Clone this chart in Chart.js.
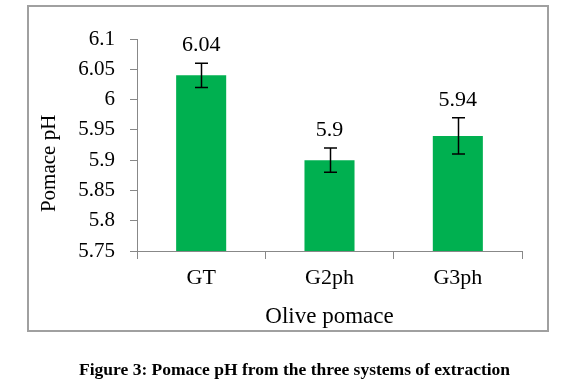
<!DOCTYPE html>
<html>
<head>
<meta charset="utf-8">
<script src="https://cdn.jsdelivr.net/npm/chart.js@4/dist/chart.umd.min.js"></script>
<style>
  html, body { margin: 0; padding: 0; background: #ffffff; }
  #wrap { position: relative; width: 578px; height: 390px; }
  #c { position: absolute; left: 0; top: 0; }
  #caption {
    position: absolute; left: 79px; top: 359px;
    font-family: "Liberation Serif", "Times New Roman", serif;
    font-weight: bold; font-size: 17.5px; line-height: 20px;
    color: #000; white-space: nowrap;
  }
</style>
</head>
<body>
<div id="wrap">
  <canvas id="c" width="578" height="390"></canvas>
  <div id="caption">Figure 3: Pomace pH from the three systems of extraction</div>
</div>
<script>
const categories = ['GT', 'G2ph', 'G3ph'];
const phValues = [6.04, 5.90, 5.94];
const phErrors = [0.02, 0.02, 0.03];
const dataLabels = ['6.04', '5.9', '5.94'];
const yMin = 5.75, yMax = 6.1, yStep = 0.05;
const yTitle = 'Pomace pH';
const xTitle = 'Olive pomace';

const SERIF = '"Liberation Serif", "Times New Roman", serif';

const frameAndErrors = {
  id: 'frameAndErrors',
  beforeDraw(chart) {
    const ctx = chart.ctx;
    ctx.save();
    ctx.fillStyle = '#ffffff';
    ctx.fillRect(0, 0, chart.width, chart.height);
    ctx.strokeStyle = '#a0a0a0';
    ctx.lineWidth = 2;
    ctx.strokeRect(28, 6, 520, 325);
    ctx.restore();
  },
  afterDatasetsDraw(chart) {
    const ctx = chart.ctx;
    const y = chart.scales.y;
    const meta = chart.getDatasetMeta(0);
    ctx.save();
    meta.data.forEach((bar, i) => {
      const cx = Math.round(bar.x) + 0.5;
      const top = y.getPixelForValue(phValues[i] + phErrors[i]);
      const bot = y.getPixelForValue(phValues[i] - phErrors[i]);
      ctx.strokeStyle = '#000';
      ctx.lineWidth = 1.5;
      ctx.beginPath();
      ctx.moveTo(cx, top); ctx.lineTo(cx, bot);
      ctx.moveTo(cx - 6.5, top); ctx.lineTo(cx + 6.5, top);
      ctx.moveTo(cx - 6.5, bot); ctx.lineTo(cx + 6.5, bot);
      ctx.stroke();
      ctx.fillStyle = '#000';
      ctx.font = '22px ' + SERIF;
      ctx.textAlign = 'center';
      ctx.textBaseline = 'alphabetic';
      ctx.fillText(dataLabels[i], bar.x, top - 12);
    });
    ctx.restore();
  }
};

new Chart(document.getElementById('c'), {
  type: 'bar',
  data: {
    labels: categories,
    datasets: [{
      data: phValues,
      backgroundColor: '#00b050',
      borderWidth: 0,
      barPercentage: 0.39,
      categoryPercentage: 1.0
    }]
  },
  options: {
    responsive: false,
    animation: false,
    devicePixelRatio: 1,
    layout: { padding: { left: 0, right: 56, top: 39, bottom: 0 } },
    plugins: { legend: { display: false }, tooltip: { enabled: false } },
    scales: {
      x: {
        afterFit(scale) { scale.height = 139; },
        grid: { drawOnChartArea: false, drawTicks: true, tickLength: 8, color: '#888888', lineWidth: 1 },
        border: { display: true, color: '#888888', width: 1 },
        ticks: { color: '#000', padding: 6, font: { family: SERIF, size: 22 } },
        title: { display: true, text: xTitle, color: '#000', font: { family: SERIF, size: 23 }, padding: { top: 0, bottom: 59.5 } }
      },
      y: {
        min: yMin, max: yMax,
        afterFit(scale) { scale.width = 137; },
        grid: { drawOnChartArea: false, drawTicks: true, tickLength: 7, color: '#888888', lineWidth: 1 },
        border: { display: true, color: '#888888', width: 1 },
        ticks: {
          stepSize: yStep, color: '#000', padding: 15,
          font: { family: SERIF, size: 21 },
          callback: (v) => String(Number(Number(v).toFixed(2)))
        },
        title: { display: true, text: yTitle + '       ', color: '#000', font: { family: SERIF, size: 21 }, padding: { top: 37, bottom: 0 } }
      }
    }
  },
  plugins: [frameAndErrors]
});
</script>
</body>
</html>
